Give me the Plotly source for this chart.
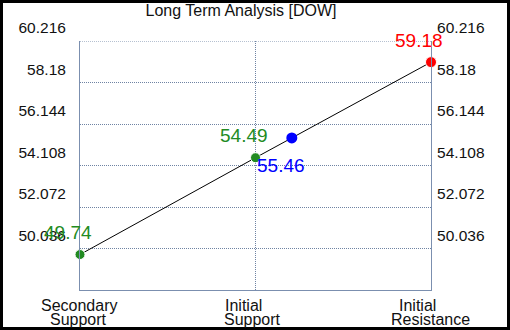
import numpy as np
import plotly.graph_objects as go

# ---- data ----
title_text = "Long Term Analysis [DOW]"
categories = ["Secondary Support", "Initial Support", "Initial Resistance"]
level_values = [49.74, 54.49, 59.18]
level_colors = ["#228B22", "#228B22", "#FF0000"]
current_price = 55.46
current_color = "#0000FF"
y_ticks = [50.036, 52.072, 54.108, 56.144, 58.18, 60.216]
y_tick_labels = ["50.036", "52.072", "54.108", "56.144", "58.18", "60.216"]
y_min = 48.0

# ---- layout geometry ----
W, H = 510, 330
ML, MR, MT, MB = 80, 79, 41, 40
PW, PH = W - ML - MR, H - MT - MB

xs = list(range(len(categories)))
cur_x = float(np.interp(current_price, level_values, xs))

fig = go.Figure()
fig.add_trace(go.Scatter(x=xs, y=level_values, mode="lines",
                         line=dict(color="black", width=1), hoverinfo="skip",
                         showlegend=False, cliponaxis=False))
fig.add_trace(go.Scatter(x=xs, y=level_values, mode="markers",
                         marker=dict(color=level_colors, size=[10, 10, 11], opacity=1),
                         showlegend=False, cliponaxis=False))
fig.add_trace(go.Scatter(x=[cur_x], y=[current_price], mode="markers",
                         marker=dict(color=current_color, size=11, opacity=1),
                         showlegend=False, cliponaxis=False))

ann = []
for x, v, c in zip(xs, level_values, level_colors):
    ann.append(dict(x=x, y=v, xref="x", yref="y", text=f"{v:.2f}", showarrow=False,
                    font=dict(size=19, color=c), xshift=-12, yshift=22))
ann.append(dict(x=cur_x, y=current_price, xref="x", yref="y", text=f"{current_price:.2f}",
                showarrow=False, font=dict(size=19, color=current_color),
                xshift=-11, yshift=-28))

line1_shift = [-1, -12, -14]
line2_shift = [-2, -3, -1]
for i, cat in enumerate(categories):
    first, rest = cat.split(" ", 1)
    ann.append(dict(x=i, y=0, xref="x", yref="paper", text=first, showarrow=False,
                    font=dict(size=16, color="#111111"), yanchor="middle",
                    xshift=line1_shift[i], yshift=-15))
    ann.append(dict(x=i, y=0, xref="x", yref="paper", text=rest, showarrow=False,
                    font=dict(size=16, color="#111111"), yanchor="middle",
                    xshift=line2_shift[i], yshift=-29))

grid_col = "#6F83A3"
axis_col = "#7B8FAF"
dot = "1px,1px"
yax_common = dict(range=[y_min, y_ticks[-1]], tickvals=y_ticks, ticktext=y_tick_labels,
                  ticks="", tickfont=dict(size=15.5, color="#111111"),
                  ticklabelshift=-13, showline=True, linecolor=axis_col, linewidth=1,
                  zeroline=False, fixedrange=True, automargin=False)

fig.update_layout(
    width=W, height=H,
    margin=dict(l=ML, r=MR, t=MT, b=MB, pad=0),
    paper_bgcolor="white", plot_bgcolor="white",
    font=dict(family="Liberation Sans, Arial, sans-serif", color="#111111"),
    title=dict(text=title_text, x=241 / W, xref="container", xanchor="center",
               y=1 - 10 / H, yref="container", yanchor="middle",
               font=dict(size=16, color="#111111")),
    xaxis=dict(range=[0, 2], tickvals=xs, showticklabels=False, ticks="",
               showgrid=True, gridcolor=grid_col, griddash=dot, gridwidth=1,
               showline=True, linecolor=axis_col, linewidth=1, zeroline=False,
               fixedrange=True, automargin=False),
    yaxis=dict(**yax_common, side="left", showgrid=True, gridcolor=grid_col,
               griddash=dot, gridwidth=1, ticklabelstandoff=10),
    yaxis2=dict(**yax_common, side="right", overlaying="y", showgrid=False,
                ticklabelstandoff=2),
    annotations=ann,
    shapes=[
        # top gridline (at the highest tick, on the plot edge)
        dict(type="line", xref="paper", yref="y", x0=0, x1=1,
             y0=y_ticks[-1], y1=y_ticks[-1],
             line=dict(color=grid_col, width=1, dash=dot), layer="below"),
        # outer black frame
        dict(type="rect", xref="paper", yref="paper",
             x0=(1.5 - ML) / PW, x1=(W - 1.5 - ML) / PW,
             y0=(H - MB - (H - 1.5)) / PH, y1=(H - MB - 1.5) / PH,
             line=dict(color="black", width=3), fillcolor="rgba(0,0,0,0)",
             layer="above"),
    ],
    showlegend=False,
    hovermode=False,
)
# dummy trace to activate the right axis
fig.add_trace(go.Scatter(x=[None], y=[None], yaxis="y2", showlegend=False))

fig.write_html("out.html", config={"displayModeBar": False, "staticPlot": True},
               post_script="document.body.style.margin='0';document.body.style.overflow='hidden';")
